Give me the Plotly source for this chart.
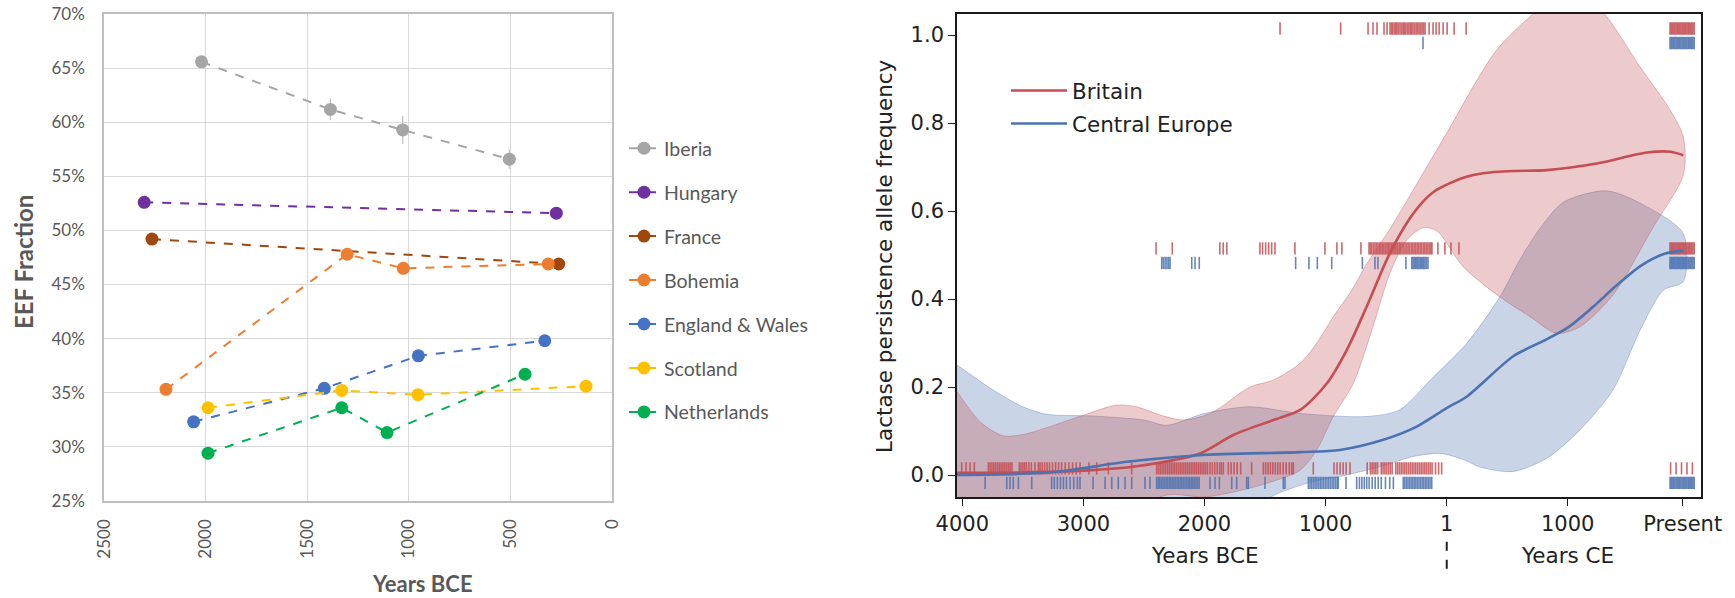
import plotly.graph_objects as go

W, H = 1735, 598

# ---------------- Left panel data (EEF fraction vs Years BCE) ----------------
iberia_years = [2020, 1386, 1030, 505]
iberia_eef = [0.656, 0.612, 0.593, 0.566]
iberia_err = [0.003, 0.010, 0.013, 0.009]
hungary_years = [2302, 274]
hungary_eef = [0.526, 0.516]
france_years = [2264, 262]
france_eef = [0.492, 0.469]
bohemia_years = [2195, 1303, 1027, 314]
bohemia_eef = [0.353, 0.478, 0.465, 0.469]
england_years = [2059, 1416, 953, 331]
england_eef = [0.323, 0.354, 0.384, 0.398]
scotland_years = [1988, 1330, 955, 128]
scotland_eef = [0.336, 0.352, 0.348, 0.356]
nether_years = [1988, 1330, 1107, 428]
nether_eef = [0.294, 0.336, 0.313, 0.367]

left_xticks = [2500, 2000, 1500, 1000, 500, 0]
left_yticks = [0.25, 0.30, 0.35, 0.40, 0.45, 0.50, 0.55, 0.60, 0.65, 0.70]

# ---------------- Right panel data (lactase persistence) ----------------
brit_mean_years = [-4044, -3500, -3000, -2560, -2038, -1762, -1431, -1210, -990, -825, -660,
                   -495, -400, -300, -200, -100, 0, 150, 300, 550, 827, 1240, 1653, 1850, 1955]
brit_mean = [0.005, 0.006, 0.010, 0.020, 0.049, 0.091, 0.125, 0.148, 0.208, 0.284, 0.383,
             0.489, 0.540, 0.585, 0.620, 0.645, 0.660, 0.677, 0.686, 0.691, 0.693, 0.708,
             0.733, 0.735, 0.727]
brit_hi_years = [-4044, -3850, -3661, -3500, -3300, -3000, -2725, -2560, -2350, -2175, -2000,
                 -1899, -1624, -1431, -1210, -1073, -936, -784, -660, -467, -250, 0, 413,
                 770, 1020, 1266, 1597, 1845, 1955]
brit_hi = [0.19, 0.12, 0.089, 0.092, 0.108, 0.136, 0.159, 0.155, 0.135, 0.125, 0.135,
           0.148, 0.200, 0.216, 0.254, 0.300, 0.360, 0.420, 0.480, 0.560, 0.660, 0.777, 0.966,
           1.06, 1.10, 1.06, 0.928, 0.830, 0.769]
brit_lo_years = [-4044, -3200, -2600, -2300, -2000, -1700, -1486, -1210, -1073, -936, -771,
                 -605, -467, -330, -193, -82, 138, 413, 689, 909, 1101, 1376, 1707, 1955]
brit_lo = [-0.25, -0.20, -0.08, -0.045, -0.05, -0.035, -0.019, 0.011, 0.057, 0.133, 0.208,
           0.340, 0.460, 0.534, 0.562, 0.555, 0.473, 0.410, 0.360, 0.322, 0.337, 0.410,
           0.564, 0.682]

ce_mean_years = [-4044, -3500, -3193, -2642, -2038, -1210, -880, -523, -247, 0, 165, 550,
                 800, 1000, 1200, 1400, 1600, 1800, 1955]
ce_mean = [0.0, 0.003, 0.008, 0.030, 0.045, 0.052, 0.057, 0.080, 0.110, 0.152, 0.178, 0.270,
           0.305, 0.335, 0.380, 0.430, 0.475, 0.503, 0.510]
ce_hi_years = [-4044, -3744, -3500, -3303, -2918, -2500, -2312, -2000, -1624, -1210, -660,
               -390, -110, 165, 440, 606, 770, 964, 1322, 1653, 1955]
ce_hi = [0.25, 0.193, 0.155, 0.138, 0.134, 0.125, 0.113, 0.140, 0.155, 0.140, 0.133,
         0.148, 0.223, 0.299, 0.405, 0.490, 0.560, 0.620, 0.646, 0.610, 0.549]
ce_lo_years = [-4044, -3000, -2000, -1600, -1376, -1103, -825, -550, -275, -54, 140, 277,
               550, 827, 1100, 1373, 1600, 1790, 1955]
ce_lo = [-0.25, -0.20, -0.12, -0.07, -0.04, -0.015, 0.0, 0.019, 0.042, 0.049, 0.035, 0.018,
         0.008, 0.038, 0.102, 0.193, 0.330, 0.420, 0.440]

# rug sample dates (years; negative = BCE), by observed frequency row
present_block = [1845, 1855, 1865, 1875, 1885, 1895, 1905, 1915, 1925, 1935, 1945, 1955,
                 1965, 1975, 1985, 1995, 2005, 2015, 2025, 2035, 2045]
brit_rug_1 = [-1376, -875, -649, -608, -575, -517, -492,
              -467, -455, -445, -432, -420, -410, -398, -385, -372, -360, -350, -338, -325,
              -312, -300, -290, -278, -265, -252, -240, -228, -215, -203, -190, -178,
              -145, -112, -87, -62, -29, 4, 62, 161] + present_block
brit_rug_half = [-2400, -2266, -1873, -1845, -1815, -1542, -1520, -1495, -1470, -1445, -1418,
                 -1253, -1005, -906, -865, -708,
                 -641, -630, -618, -605, -592, -580, -567, -555, -543, -530, -518, -505, -492,
                 -480, -468, -455, -443, -430, -418, -405, -392, -380, -368, -355, -343, -330,
                 -318, -305, -292, -280, -268, -255, -243, -230, -218, -205, -192, -180, -168,
                 -155, -143, -130, -121, -72, -14, 36, 102] + present_block
brit_rug_0 = [-4005, -3969, -3936, -3901,
              -3785, -3770, -3755, -3740, -3725, -3710, -3695, -3680, -3665, -3650, -3635,
              -3620, -3605, -3590, -3529, -3515, -3500, -3485, -3470, -3450, -3430, -3400,
              -3372, -3358, -3340, -3320, -3300, -3280, -3255, -3230, -3205, -3180, -3150,
              -3120, -3090, -3060, -3028, -2954, -2890, -2794, -2601,
              -2395, -2380, -2365, -2350, -2335, -2320, -2305, -2290, -2275, -2260, -2245,
              -2230, -2215, -2200, -2185, -2170, -2155, -2140, -2125, -2110, -2095, -2080,
              -2065, -2050, -2035, -2020, -2005, -1990, -1975, -1954, -1935, -1915, -1895,
              -1875, -1860, -1844, -1803, -1780, -1755, -1730, -1701, -1610,
              -1514, -1495, -1475, -1455, -1435, -1415, -1395, -1375, -1350, -1325, -1300,
              -1280, -1266, -1101, -930, -905, -880, -855, -830, -798,
              -656, -630, -615, -600, -585, -570, -540, -525, -510, -495, -480, -465, -450,
              -420, -405, -390, -375, -360, -345, -330, -315, -300, -285, -270, -255, -240,
              -225, -210, -195, -180, -165, -150, -135, -120, -92, -66, -41,
              1850, 1895, 1940, 1985, 2030]
ce_rug_1 = [-195] + present_block
ce_rug_half = [-2353, -2340, -2325, -2310, -2296, -2284, -2105, -2078, -2043, -1247, -1137,
               -1068, -949, -696, -592, -567, -336,
               -288, -278, -268, -258, -248, -238, -228, -218, -208, -198, -188, -178, -166,
               -154] + present_block
ce_rug_0 = [-3812, -3633, -3606, -3579, -3537, -3427,
            -3262, -3240, -3215, -3190, -3165, -3140, -3110, -3080, -3050, -3028, -2920,
            -2821, -2766, -2712, -2656, -2601, -2491, -2450,
            -2395, -2382, -2369, -2356, -2343, -2330, -2317, -2304, -2291, -2278, -2265,
            -2252, -2239, -2226, -2213, -2200, -2187, -2174, -2161, -2148, -2135, -2122,
            -2109, -2096, -2083, -2070, -2057, -2044, -1954, -1913, -1877, -1775, -1734,
            -1651, -1638, -1500, -1349, -1335,
            -1142, -1128, -1114, -1100, -1086, -1072, -1058, -1044, -1030, -1016, -1002,
            -988, -974, -960, -946, -932, -918, -904, -895, -831,
            -743, -720, -700, -680, -660, -640, -615, -590, -565, -540, -505, -470, -440,
            -358, -345, -332, -319, -306, -293, -280, -267, -254, -241, -228, -215, -202,
            -189, -176, -163, -150, -137, -123] + present_block

right_xtickvals = [-4000, -3000, -2000, -1000, 1, 1000, 1950]
right_xticktext = ["4000", "3000", "2000", "1000", "1", "1000", "Present"]
right_yticks = [0.0, 0.2, 0.4, 0.6, 0.8, 1.0]

# ---------------- styling ----------------
GRAY_TXT = "#595959"
XL_FONT = "Lato"
MPL_FONT = "DejaVu Sans"
RED = "#C44E52"
BLUE = "#4C72B0"


def px_x(p):
    return p / W


def px_y(p):
    return 1 - p / H


fig = go.Figure()

left_series = [
    ("Iberia", iberia_years, iberia_eef, "#A5A5A5", iberia_err),
    ("Hungary", hungary_years, hungary_eef, "#7030A0", None),
    ("France", france_years, france_eef, "#9E480E", None),
    ("Bohemia", bohemia_years, bohemia_eef, "#ED7D31", None),
    ("England & Wales", england_years, england_eef, "#4472C4", None),
    ("Scotland", scotland_years, scotland_eef, "#FFC000", None),
    ("Netherlands", nether_years, nether_eef, "#00B050", None),
]
for name, xs, ys, col, err in left_series:
    tr = dict(
        x=xs, y=ys, name=name, mode="lines+markers",
        line=dict(color=col, width=2, dash="dash"),
        marker=dict(color=col, size=13),
        xaxis="x", yaxis="y", legend="legend", legendgroup=name,
    )
    if err is not None:
        tr["error_y"] = dict(type="data", array=err, visible=True, color="#BFBFBF",
                             thickness=1.2, width=0)
    fig.add_trace(go.Scatter(**tr))


def band(xs_hi, ys_hi, xs_lo, ys_lo, fillcol, linecol):
    return go.Scatter(
        x=list(xs_hi) + list(xs_lo)[::-1],
        y=list(ys_hi) + list(ys_lo)[::-1],
        fill="toself", fillcolor=fillcol, mode="lines",
        line=dict(color=linecol, width=1, shape="spline", smoothing=0.8),
        hoverinfo="skip", showlegend=False, xaxis="x2", yaxis="y2",
    )


fig.add_trace(band(ce_hi_years, ce_hi, ce_lo_years, ce_lo,
                   "rgba(76,114,176,0.30)", "rgba(76,114,176,0.35)"))
fig.add_trace(band(brit_hi_years, brit_hi, brit_lo_years, brit_lo,
                   "rgba(196,78,82,0.30)", "rgba(196,78,82,0.35)"))


def rug(rows, col, offset):
    xs, ys = [], []
    for base, yrs in rows:
        xs += yrs
        ys += [base + offset] * len(yrs)
    return go.Scatter(
        x=xs, y=ys, mode="markers", showlegend=False, hoverinfo="skip",
        marker=dict(symbol="line-ns", size=8.8, line=dict(width=1.6, color=col)),
        xaxis="x2", yaxis="y2", cliponaxis=False,
    )


fig.add_trace(rug([(1.0, brit_rug_1), (0.5, brit_rug_half), (0.0, brit_rug_0)],
                  "rgba(196,78,82,0.85)", 0.015))
fig.add_trace(rug([(1.0, ce_rug_1), (0.5, ce_rug_half), (0.0, ce_rug_0)],
                  "rgba(76,114,176,0.85)", -0.018))

fig.add_trace(go.Scatter(x=brit_mean_years, y=brit_mean, name="Britain", mode="lines",
                         line=dict(color=RED, width=2.6, shape="spline", smoothing=0.8),
                         xaxis="x2", yaxis="y2", legend="legend2", legendgroup="brit"))
fig.add_trace(go.Scatter(x=ce_mean_years, y=ce_mean, name="Central Europe", mode="lines",
                         line=dict(color=BLUE, width=2.6, shape="spline", smoothing=0.8),
                         xaxis="x2", yaxis="y2", legend="legend2", legendgroup="ce"))

fig.update_layout(
    width=W, height=H, autosize=False,
    margin=dict(l=0, r=0, t=0, b=0, pad=0, autoexpand=False),
    paper_bgcolor="white", plot_bgcolor="white",
    xaxis=dict(
        domain=[px_x(104), px_x(612)], range=[2500, 0], tickvals=left_xticks,
        tickangle=-90, showgrid=True, gridcolor="#D9D9D9", gridwidth=1,
        showline=True, linecolor="#BFBFBF", linewidth=1.5, mirror=True,
        zeroline=False, ticks="", ticklabelstandoff=10, automargin=False,
        tickfont=dict(family=XL_FONT, size=17, color=GRAY_TXT), anchor="y",
    ),
    yaxis=dict(
        domain=[px_y(500.7), px_y(14.3)], range=[0.25, 0.70], tickvals=left_yticks,
        tickformat=".0%", showgrid=True, gridcolor="#D9D9D9", gridwidth=1,
        showline=True, linecolor="#BFBFBF", linewidth=1.5, mirror=True,
        zeroline=False, ticks="", ticklabelstandoff=14, automargin=False,
        tickfont=dict(family=XL_FONT, size=17, color=GRAY_TXT), anchor="x",
    ),
    xaxis2=dict(
        domain=[px_x(957), px_x(1701)], range=[-4044, 2101],
        tickvals=right_xtickvals, ticktext=right_xticktext, automargin=False,
        showgrid=False, zeroline=False, showline=True, linecolor="#1a1a1a", linewidth=1.6,
        mirror=True, ticks="outside", ticklen=7, tickwidth=1.4, tickcolor="#1a1a1a",
        tickfont=dict(family=MPL_FONT, size=21, color="#222222"), anchor="y2",
    ),
    yaxis2=dict(
        domain=[px_y(497), px_y(14)], range=[-0.05, 1.048], tickvals=right_yticks,
        tickformat=".1f", showgrid=False, zeroline=False, showline=True, automargin=False,
        linecolor="#1a1a1a", linewidth=1.6, mirror=True, ticks="outside", ticklen=7,
        tickwidth=1.4, tickcolor="#1a1a1a",
        tickfont=dict(family=MPL_FONT, size=21, color="#222222"), anchor="x2",
    ),
    legend=dict(
        x=px_x(624), y=px_y(129), xanchor="left", yanchor="top",
        font=dict(family=XL_FONT, size=19.5, color=GRAY_TXT),
        tracegroupgap=15.6, bgcolor="rgba(0,0,0,0)", traceorder="grouped",
    ),
    legend2=dict(
        x=px_x(1006), y=px_y(70), xanchor="left", yanchor="top",
        font=dict(family=MPL_FONT, size=21.5, color="#222222"),
        itemwidth=56, bgcolor="rgba(0,0,0,0)", traceorder="grouped", tracegroupgap=2,
    ),
    annotations=[
        dict(text="<b>EEF Fraction</b>", x=px_x(24), y=px_y(262), xref="paper", yref="paper",
             textangle=-90, showarrow=False, xanchor="center", yanchor="middle",
             font=dict(family=XL_FONT, size=24, color=GRAY_TXT)),
        dict(text="<b>Years BCE</b>", x=px_x(422), y=px_y(583), xref="paper", yref="paper",
             showarrow=False, xanchor="center", yanchor="middle",
             font=dict(family=XL_FONT, size=22, color=GRAY_TXT)),
        dict(text="Lactase persistence allele frequency", x=px_x(885), y=px_y(256),
             xref="paper", yref="paper", textangle=-90, showarrow=False,
             xanchor="center", yanchor="middle",
             font=dict(family=MPL_FONT, size=21.5, color="#222222")),
        dict(text="Years BCE", x=px_x(1205), y=px_y(555), xref="paper", yref="paper",
             showarrow=False, xanchor="center", yanchor="middle",
             font=dict(family=MPL_FONT, size=21.5, color="#222222")),
        dict(text="Years CE", x=px_x(1567), y=px_y(555), xref="paper", yref="paper",
             showarrow=False, xanchor="center", yanchor="middle",
             font=dict(family=MPL_FONT, size=21.5, color="#222222")),
    ],
    shapes=[
        dict(type="line", xref="x2", yref="paper", x0=1, x1=1,
             y0=px_y(541.7), y1=px_y(571.7),
             line=dict(color="#222222", width=2, dash="dash")),
    ],
)

fig.write_html("out.html")
